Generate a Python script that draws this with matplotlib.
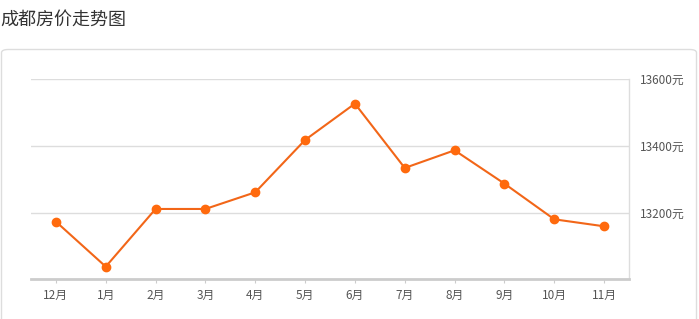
import matplotlib.pyplot as plt
from matplotlib.patches import FancyBboxPatch

plt.rcParams['font.family'] = ['Noto Sans CJK SC', 'DejaVu Sans']

# 成都房价 (元/平米)
months = ['12月', '1月', '2月', '3月', '4月', '5月', '6月', '7月', '8月', '9月', '10月', '11月']
prices = [13173, 13038, 13211, 13211, 13261, 13418, 13527, 13334, 13387, 13287, 13180, 13159]
y_ticks = [13200, 13400, 13600]
y_labels = ['13200元', '13400元', '13600元']

fig = plt.figure(figsize=(6.99, 3.19), dpi=100)

# panel border
panel = FancyBboxPatch((1.5 / 699, -0.05), 695 / 699, (319 - 49.5) / 319 + 0.05,
                       boxstyle='round,pad=0,rounding_size=0.01',
                       transform=fig.transFigure, facecolor='white',
                       edgecolor='#dddddd', linewidth=1, zorder=-1)
fig.patches.append(panel)

fig.text(0.0, 1 - 20 / 319, '成都房价走势图', fontsize=13, color='#333333',
         ha='left', va='center')

ax = fig.add_axes([31 / 699, 39.7 / 319, (629 - 31) / 699, 200 / 319])
ax.set_zorder(1)
ax.set_facecolor('none')
x = range(len(months))
ax.plot(x, prices, color='#f26618', linewidth=1.5, marker='o', markersize=6,
        markerfacecolor='#ff6a0d', markeredgecolor='#ff6a0d', zorder=3)

ax.set_xlim(-0.5, len(months) - 0.5)
ax.set_ylim(13000, 13600)
ax.set_xticks(list(x))
ax.set_xticklabels(months)
ax.set_yticks(y_ticks)
ax.set_yticklabels(y_labels)
ax.yaxis.tick_right()
ax.grid(axis='y', color='#dddddd', linewidth=1)
ax.set_axisbelow(True)

for s in ['left', 'top']:
    ax.spines[s].set_visible(False)
ax.spines['right'].set_color('#dddddd')
ax.spines['right'].set_linewidth(1)
ax.spines['bottom'].set_color('#cccccc')
ax.spines['bottom'].set_linewidth(2)

ax.tick_params(axis='x', length=3, color='#cccccc', pad=4, labelsize=8.5, labelcolor='#555555')
ax.tick_params(axis='y', length=0, pad=8, labelsize=8.5, labelcolor='#555555')

fig.savefig('out.png', dpi=100)
